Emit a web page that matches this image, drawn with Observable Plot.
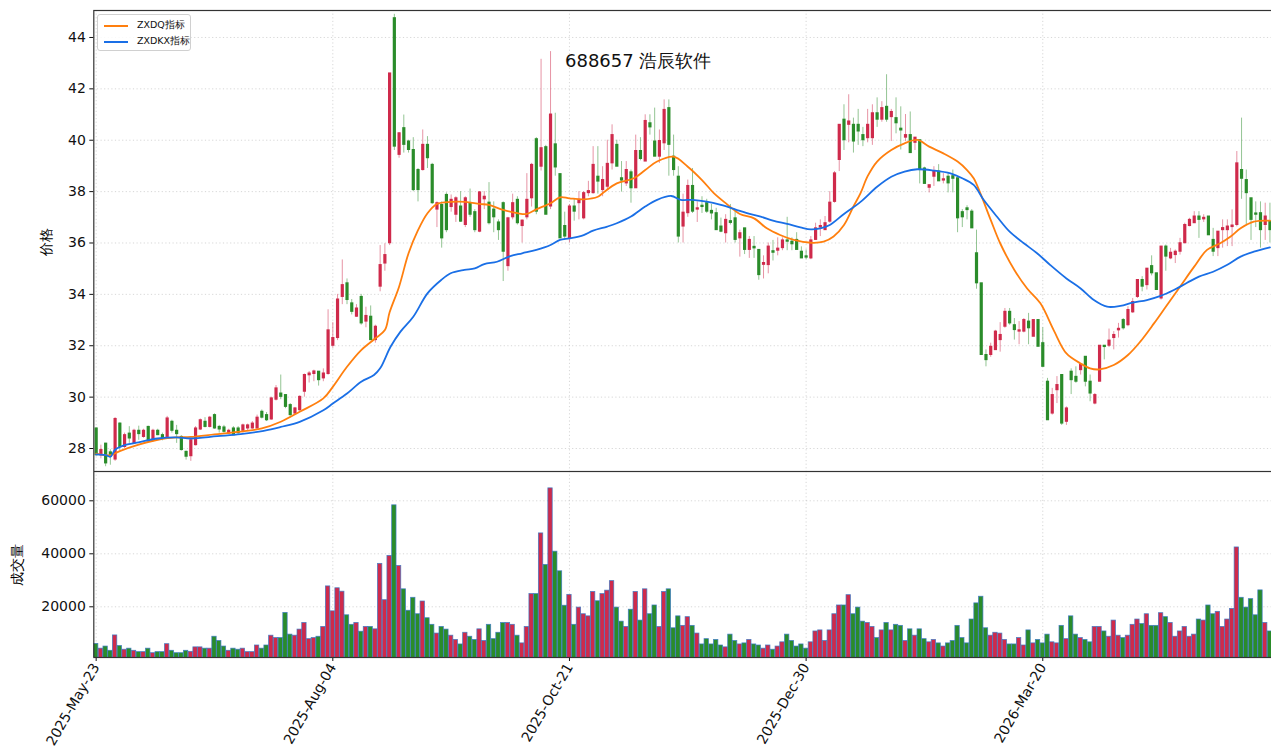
<!DOCTYPE html>
<html><head><meta charset="utf-8">
<script src="https://cdn.jsdelivr.net/npm/d3@7"></script>
<script src="https://cdn.jsdelivr.net/npm/@observablehq/plot@0.6"></script>
<style>
html,body{margin:0;padding:0;background:#fff;overflow:hidden;}
#wrap{position:relative;width:1271px;height:747px;overflow:hidden;font-family:"DejaVu Sans",sans-serif;}
#wrap svg{max-width:none !important;display:block;}
#top,#bot{position:absolute;left:0;width:1280px;}
#top{top:0;} #bot{top:471px;}
.ylab{position:absolute;transform:translate(-50%,-50%) rotate(-90deg);font-size:14px;color:#000;white-space:nowrap;}
#title{position:absolute;left:565px;top:61px;transform:translate(0,-50%);font-size:18px;color:#111;white-space:nowrap;}
#legend{position:absolute;left:97px;top:14px;width:92px;height:35px;border:1px solid #d0d0d0;border-radius:3px;background:rgba(255,255,255,0.85);font-size:9.5px;color:#111;}
#legend div{position:absolute;left:6px;display:flex;align-items:center;white-space:nowrap;}
#legend span.sw{display:inline-block;width:24px;height:2px;margin-right:9px;}
</style></head>
<body><div id="wrap"><div id="top"></div><div id="bot"></div>
<div id="title"></div><div class="ylab" id="ylab1" style="left:47px;top:242px"></div><div class="ylab" id="ylab2" style="left:18px;top:565px"></div>
<div id="legend"><div style="top:4px"><span class="sw" style="background:#ff7f0e"></span><span id="lg1"></span></div><div style="top:20px"><span class="sw" style="background:#1a6fe6"></span><span id="lg2"></span></div></div>
</div>
<script>
const titleText = "688657 浩辰软件";
const priceLabel = "价格";
const volumeLabel = "成交量";
const seriesNames = ["ZXDQ指标", "ZXDKX指标"];
const tickIdx = [0, 50, 100, 150, 200];
const tickLabels = ["2025-May-23", "2025-Aug-04", "2025-Oct-21", "2025-Dec-30", "2026-Mar-20"];
const priceTicks = [28, 30, 32, 34, 36, 38, 40, 42, 44];
const volTicks = [20000, 40000, 60000];

const opens = [28.78,27.74,28.19,27.85,27.57,28.97,28.06,28.58,28.19,28.69,28.45,28.84,28.3,28.69,28.52,28.45,29.04,28.69,28.45,27.87,27.7,28.13,28.74,29.04,28.84,29.3,28.84,28.82,28.58,28.78,28.78,28.69,28.78,28.78,28.78,29.43,29.3,29.13,29.9,30.14,
30.08,29.69,29.36,29.49,30.21,30.85,30.9,30.99,30.73,30.9,32.0,32.3,33.9,34.43,33.65,33.13,33.9,32.94,33.13,32.22,34.3,35.2,35.99,44.75,39.43,40.47,39.95,39.62,38.84,38.84,
39.82,39.04,37.3,37.48,37.87,37.4,37.1,37.42,36.7,37.55,37.2,36.44,37.7,37.57,37.3,36.8,37.55,35.1,37.0,37.68,36.66,37.0,37.74,40.04,38.97,39.73,37.42,39.84,38.68,36.66,
36.18,37.42,37.55,36.96,37.94,37.94,38.58,38.06,38.19,39.1,39.82,38.52,38.32,38.75,38.13,39.58,39.17,40.66,39.95,39.36,39.88,41.25,39.36,38.58,36.64,37.16,38.22,37.3,37.45,37.55,
37.25,37.16,36.64,36.38,36.85,36.96,36.18,36.57,35.73,35.85,35.73,35.15,35.14,35.68,35.7,35.8,36.1,36.05,36.12,35.66,35.48,35.4,36.12,36.6,36.5,36.83,37.6,39.23,40.8,40.6,
40.6,40.6,40.2,40.08,40.08,41.05,40.8,41.3,40.9,40.86,40.45,40.1,40.2,39.9,40.0,38.9,38.15,38.58,38.78,38.43,38.58,38.6,38.52,37.2,37.35,37.22,35.6,34.43,31.64,31.64,
31.83,32.22,32.74,33.32,32.8,32.55,32.55,32.94,32.35,33.0,32.1,30.6,29.36,30.27,30.86,29.04,30.99,30.79,31.05,31.57,30.6,29.75,30.6,32.0,32.0,32.3,32.6,33.0,32.8,33.3,
33.9,34.56,34.36,35.1,34.82,33.84,35.86,35.4,35.53,35.66,35.99,36.66,36.77,37.03,36.92,37.03,36.12,35.8,36.5,36.5,36.62,36.7,38.84,38.45,37.74,37.15,37.16,36.7,36.83];
const highs = [28.8,28.13,28.2,27.95,29.2,29.0,28.6,28.85,28.75,28.87,28.75,28.87,28.75,28.75,28.6,29.25,29.1,28.9,28.5,27.9,28.35,28.85,29.15,29.2,29.25,29.35,28.9,28.9,28.75,28.85,28.85,28.95,28.95,29.05,29.3,29.5,29.4,30.0,30.45,30.86,
30.1,29.75,29.6,30.05,30.9,31.0,31.05,31.0,31.1,33.4,32.9,34.0,35.34,34.6,33.8,33.6,34.0,33.5,33.55,32.8,35.9,35.97,42.6,44.9,40.3,40.98,40.0,40.1,38.9,40.4,
40.14,39.1,37.6,37.6,37.95,37.87,37.8,38.0,37.8,38.1,37.3,38.0,38.0,38.35,37.6,36.9,37.6,37.0,37.9,37.8,36.9,38.7,39.1,40.1,43.15,39.8,43.45,41.05,38.7,37.2,
37.5,37.7,38.0,38.0,38.4,39.75,39.75,38.97,40.0,40.6,40.0,39.17,39.17,38.84,40.2,40.1,40.99,40.99,41.25,40.4,41.57,41.57,40.2,38.97,37.9,38.45,38.9,37.6,37.8,37.7,
37.5,37.35,36.97,37.1,37.5,37.3,36.5,36.57,36.25,36.25,35.73,35.5,36.0,36.1,36.2,36.2,37.0,36.2,36.4,35.85,35.73,36.25,36.77,36.9,37.03,38.0,38.78,40.6,41.38,41.77,
40.86,41.2,40.5,41.2,41.38,41.65,41.5,42.55,41.2,41.65,41.3,41.0,41.1,40.1,40.0,38.95,38.25,38.97,39.05,38.7,38.7,38.84,38.52,37.3,37.45,37.3,36.5,34.43,31.84,32.1,
32.6,32.9,33.45,33.45,33.06,32.94,33.06,33.26,33.0,33.0,32.7,30.73,30.34,30.8,30.86,29.62,31.1,31.18,31.3,31.57,30.86,30.14,32.0,32.0,32.65,32.55,32.87,33.06,33.52,33.84,
34.56,34.69,35.0,35.5,34.82,35.86,35.92,35.79,35.73,36.18,36.77,36.96,37.22,37.22,37.1,37.03,36.57,36.44,36.9,36.9,37.29,39.56,40.86,38.84,37.74,37.6,37.6,37.55,37.55];
const lows = [27.7,27.6,27.29,27.35,27.5,27.9,28.0,28.2,28.15,28.32,28.4,28.3,28.25,28.5,28.3,28.4,28.6,28.2,27.9,27.55,27.5,28.1,28.7,28.8,28.8,28.75,28.6,28.6,28.55,28.5,28.55,28.6,28.7,28.75,28.7,29.15,29.05,29.1,29.85,29.9,
29.55,29.2,29.3,29.45,30.0,30.55,30.6,30.43,30.6,30.85,31.9,32.2,33.6,33.6,33.2,33.1,32.8,32.7,32.2,32.1,34.1,34.9,35.9,39.6,39.3,39.5,39.5,38.0,37.6,38.8,
38.9,37.5,36.6,35.8,36.4,37.2,36.8,36.8,36.6,37.0,36.4,36.4,37.3,36.7,36.4,36.1,34.5,34.9,36.9,36.7,36.0,36.9,37.4,37.1,38.8,37.1,37.3,38.6,36.18,36.1,
36.0,36.85,36.9,36.9,37.8,37.9,37.9,37.8,38.05,38.84,38.97,37.98,38.2,37.55,38.13,39.2,39.17,40.2,39.36,39.1,39.6,38.6,38.6,36.0,36.0,37.0,37.15,36.8,37.15,37.15,
36.9,36.5,36.4,36.0,36.7,36.0,35.45,35.55,35.4,35.4,34.55,34.6,34.8,35.3,35.5,35.7,35.7,35.7,35.73,35.4,35.35,35.35,36.1,36.25,36.5,36.77,37.55,38.78,39.6,39.9,
39.5,39.8,39.75,39.9,39.8,40.5,40.7,40.7,39.95,40.25,39.62,39.95,39.5,39.6,38.3,38.3,37.95,38.2,38.4,38.3,37.95,37.95,36.4,36.6,36.9,36.57,34.2,31.64,31.18,31.55,
31.83,31.75,32.68,32.8,32.22,32.04,32.5,32.04,32.35,31.96,31.18,29.1,29.3,29.75,28.9,28.9,30.1,30.54,30.86,30.4,29.82,29.7,30.6,31.45,31.93,31.84,32.3,32.61,32.74,33.26,
33.84,34.1,34.17,34.72,34.17,33.78,34.9,35.35,35.2,35.53,35.99,36.63,36.77,36.18,36.8,36.3,35.47,35.47,35.8,35.86,35.86,36.63,37.7,36.7,36.1,36.6,35.8,36.1,36.0];
const closes = [27.74,27.94,27.42,27.75,29.15,28.06,28.52,28.39,28.69,28.56,28.69,28.32,28.69,28.52,28.4,29.17,28.69,28.56,27.94,27.68,28.32,28.78,29.1,28.84,29.2,28.78,28.74,28.65,28.69,28.52,28.6,28.9,28.9,28.97,29.2,29.2,29.1,29.95,30.34,30.01,
29.62,29.3,29.56,30.01,30.86,30.92,31.0,30.66,30.92,32.6,32.3,33.8,34.36,33.78,33.32,33.45,32.87,33.16,32.22,32.74,35.14,35.53,42.6,39.75,40.27,39.82,39.62,38.06,38.06,39.82,
39.3,37.55,37.55,36.18,36.5,37.68,37.74,36.83,37.74,37.1,36.5,37.97,37.8,36.77,37.0,36.5,35.66,36.96,37.55,36.77,36.87,37.68,39.04,37.22,39.69,37.1,41.0,38.94,36.18,36.25,
37.42,37.22,37.68,37.94,38.02,39.04,38.39,38.45,39.08,40.2,38.97,38.43,38.84,38.13,39.58,39.27,40.75,40.5,39.36,39.97,41.18,39.82,38.84,36.25,37.18,38.22,37.22,37.35,37.4,37.22,
37.15,36.5,36.44,36.9,36.78,36.12,36.38,35.73,36.12,35.79,34.75,35.22,35.86,35.62,35.78,36.1,36.05,35.95,35.73,35.4,35.43,36.1,36.57,36.66,36.77,37.57,38.71,40.6,40.0,40.73,
39.95,40.34,40.0,40.6,41.05,40.8,41.25,40.8,41.1,40.66,40.38,40.2,39.5,40.1,38.84,38.3,38.25,38.78,38.4,38.48,38.32,38.5,36.96,37.0,37.28,36.57,34.43,31.64,31.44,31.96,
32.55,32.42,33.32,32.87,32.61,32.6,33.0,32.68,33.0,31.96,31.18,29.1,30.08,30.47,28.97,29.56,30.66,30.6,31.25,30.6,30.14,30.08,32.0,31.95,32.2,32.42,32.66,32.68,33.39,33.7,
34.56,34.3,35.0,34.82,34.17,35.86,35.47,35.62,35.66,35.99,36.7,36.9,37.03,36.9,36.98,36.3,35.66,36.44,36.58,36.64,36.68,39.1,38.5,37.94,36.9,37.1,36.5,37.03,36.5];
const volumes = [6000,4200,5000,3400,9200,5200,3800,4200,3400,2900,2900,4200,2500,2900,2900,5900,3400,2500,2500,3400,3000,4700,4700,4200,4200,8700,7100,5000,3400,4200,3800,4200,2900,2900,5400,4200,5400,9100,8200,8200,
17700,9500,9100,11400,13900,7800,8200,8700,12400,27700,18300,27000,25700,16800,13200,13900,10600,12400,12400,11500,36200,22500,39200,58300,35400,26600,18500,23400,17200,22000,
15700,13200,9900,12400,11400,9100,7500,5800,10200,8700,7500,11500,7100,13200,7800,10200,13900,13900,13200,9100,6200,12400,24800,24800,47700,35800,64700,40800,33400,20400,
24500,13200,19700,17200,16400,25600,22100,24800,26100,29700,19700,14400,12400,18900,25600,14800,26600,17200,20500,12400,25600,26600,11900,16400,12800,16100,12800,9900,5800,7800,
5800,7500,5400,4700,9500,7100,5800,6200,7500,5800,5400,4200,5400,3800,5000,6600,9500,7100,5000,5800,4200,6600,10700,11100,7100,11100,17200,20500,20500,24400,
17200,19700,14400,13900,12400,8200,11100,13900,11100,13200,12800,7100,11500,9100,11500,7800,6600,7500,6200,5000,6200,7100,12800,8200,6200,15200,21300,23800,11900,9100,
10200,9900,7500,5800,5800,8200,5400,11100,6200,7500,6200,9500,6600,6200,12800,7800,16400,9500,8200,7500,6600,12400,12400,10700,8700,14800,9100,8200,9100,13200,
15200,13500,17200,12800,12800,17600,16100,13900,8700,10700,12400,8700,9500,15200,14800,20500,17200,18100,12400,15200,19200,42400,23400,19700,22900,16800,26200,13900,10700];

const zxdqIdx = [0,3,5,9,14,17,20,25,30,35,39,43,48,50,53,56,59,61,62,64,66,68,70,72,75,78,81,83,86,89,91,93,96,98,100,103,106,107,110,113.6,116,118.5,122,125,128,130.5,133,136,139,141.7,144.5,147.4,151,153.7,155.8,158,160,161.5,163,165,168,170.8,173.5,176,179,182,184,185.4,186.8,189,191,194,196.7,199.5,202.3,205,208,210,212,215,218,220.6,223.5,226,229,232,234.7,237.5,239.7,241.8,244.6,248];
const zxdqVal = [27.8,27.74,27.9,28.15,28.38,28.43,28.45,28.55,28.65,28.78,29.04,29.43,29.95,30.4,31.18,31.83,32.29,32.61,33.3,34.3,35.6,36.5,37.16,37.52,37.6,37.6,37.52,37.48,37.29,37.16,37.13,37.31,37.55,37.78,37.74,37.7,37.8,37.94,38.32,38.52,38.84,39.17,39.36,38.97,38.45,37.94,37.55,37.13,36.96,36.57,36.31,36.12,36.01,36.05,36.25,36.7,37.42,37.94,38.6,39.17,39.62,39.88,40.01,39.75,39.49,39.17,38.84,38.52,37.94,36.9,35.99,34.95,34.23,33.65,32.61,31.7,31.31,31.12,31.08,31.25,31.64,32.16,32.87,33.52,34.3,35.08,35.73,35.99,36.25,36.57,36.83,36.87];
const zxdkxIdx = [0,2,3,4,6,9.4,13,17,20,25.6,30.5,35.4,39,43,48,50,53,56,58.7,60,62.2,64.3,67,70,72.9,74.9,77.8,80,82,84.7,87.5,90,93,96,98,100,103,105,108,110,113,116,118.5,121.5,123.5,126,129,132,135,137.5,140.4,143,146,148.8,151,153,155,158,161.5,165,168,170.8,173.5,177,180.5,183,185.4,187.5,190.3,193,196,198.8,201.6,205,208,210.8,213.6,216.4,219,222,224.9,227.7,230.5,233,236,238.9,241.8,244.6,248];
const zxdkxVal = [27.77,27.74,27.68,27.95,28.13,28.26,28.39,28.43,28.39,28.48,28.56,28.69,28.84,29.04,29.49,29.75,30.14,30.6,30.86,31.12,31.96,32.55,33.13,34.04,34.56,34.82,34.95,35.01,35.18,35.27,35.49,35.6,35.73,35.92,36.12,36.18,36.31,36.48,36.64,36.77,37.03,37.42,37.68,37.83,37.68,37.68,37.61,37.48,37.31,37.16,37.03,36.87,36.74,36.61,36.53,36.57,36.7,37.13,37.6,38.19,38.58,38.78,38.87,38.82,38.71,38.52,38.26,37.68,37.03,36.44,35.99,35.6,35.14,34.62,34.23,33.78,33.52,33.55,33.68,33.78,33.94,34.17,34.45,34.69,34.88,35.14,35.47,35.66,35.83];

const RED = "#cf2a4b", GREEN = "#2a8c2a", ORANGE = "#ff7f0e", BLUE = "#1a6fe6";
const rows = opens.map((o, i) => ({i, o, h: highs[i], l: lows[i], c: closes[i], v: volumes[i], col: closes[i] >= o ? RED : GREEN}));
const zxdq = zxdqIdx.map((i, k) => ({i, v: zxdqVal[k]}));
const zxdkx = zxdkxIdx.map((i, k) => ({i, v: zxdkxVal[k]}));

const W = 1280, ML = 93.3, STEP = 4.733;
const xDomain = [-0.5, -0.5 + (W - ML) / STEP];
const grid = {stroke: "#b8b8b8", strokeOpacity: 0.7, strokeDasharray: "1.2,2.4", strokeWidth: 0.8};
const font = "DejaVu Sans, sans-serif";
const FS = 14;

const topPlot = Plot.plot({
  width: W, height: 471, marginTop: 10, marginBottom: 0, marginLeft: ML, marginRight: 0,
  style: {fontFamily: font, fontSize: FS + "px", color: "#111", background: "transparent"},
  x: {domain: xDomain, axis: null},
  y: {domain: [27.105, 45.05], axis: null},
  marks: [
    Plot.gridY(priceTicks, grid),
    Plot.gridX(tickIdx, grid),
    Plot.ruleX(rows, {x: "i", y1: "l", y2: "h", stroke: "col", strokeOpacity: 0.5, strokeWidth: 1}),
    Plot.ruleX(rows, {x: "i", y1: d => Math.min(d.o, d.c) - 0.02, y2: d => Math.max(d.o, d.c) + 0.02, stroke: "col", strokeWidth: 3.2}),
    Plot.line(zxdq, {x: "i", y: "v", stroke: ORANGE, strokeWidth: 1.8, curve: "catmull-rom"}),
    Plot.line(zxdkx, {x: "i", y: "v", stroke: BLUE, strokeWidth: 1.8, curve: "catmull-rom"}),
    Plot.axisY(priceTicks, {anchor: "left", tickSize: 4, tickPadding: 4, label: null, fontSize: FS}),
    Plot.frame({stroke: "#333", strokeWidth: 1.2})
  ]
});
document.getElementById("top").appendChild(topPlot);

const botPlot = Plot.plot({
  width: W, height: 276, marginTop: 0, marginBottom: 90, marginLeft: ML, marginRight: 0,
  style: {fontFamily: font, fontSize: FS + "px", color: "#111", background: "transparent"},
  x: {domain: xDomain, axis: null},
  y: {domain: [870, 71060], axis: null},
  marks: [
    Plot.gridY(volTicks, grid),
    Plot.gridX(tickIdx, grid),
    Plot.rectY(rows, {x1: d => d.i - 0.46, x2: d => d.i + 0.46, y1: 0, y2: "v", fill: "col", stroke: "#3a78c4", strokeWidth: 0.8, strokeOpacity: 0.85, clip: true}),
    Plot.axisY(volTicks, {anchor: "left", tickSize: 4, tickPadding: 4, label: null, fontSize: FS, tickFormat: d => String(d)}),
    Plot.axisX(tickIdx, {anchor: "bottom", tickSize: 4, tickPadding: 3, tickRotate: -60, label: null, fontSize: FS, tickFormat: i => tickLabels[tickIdx.indexOf(i)]}),
    Plot.frame({stroke: "#333", strokeWidth: 1.2})
  ]
});
document.getElementById("bot").appendChild(botPlot);

document.getElementById("title").textContent = titleText;
document.getElementById("ylab1").textContent = priceLabel;
document.getElementById("ylab2").textContent = volumeLabel;
document.getElementById("lg1").textContent = seriesNames[0];
document.getElementById("lg2").textContent = seriesNames[1];
</script></body></html>
